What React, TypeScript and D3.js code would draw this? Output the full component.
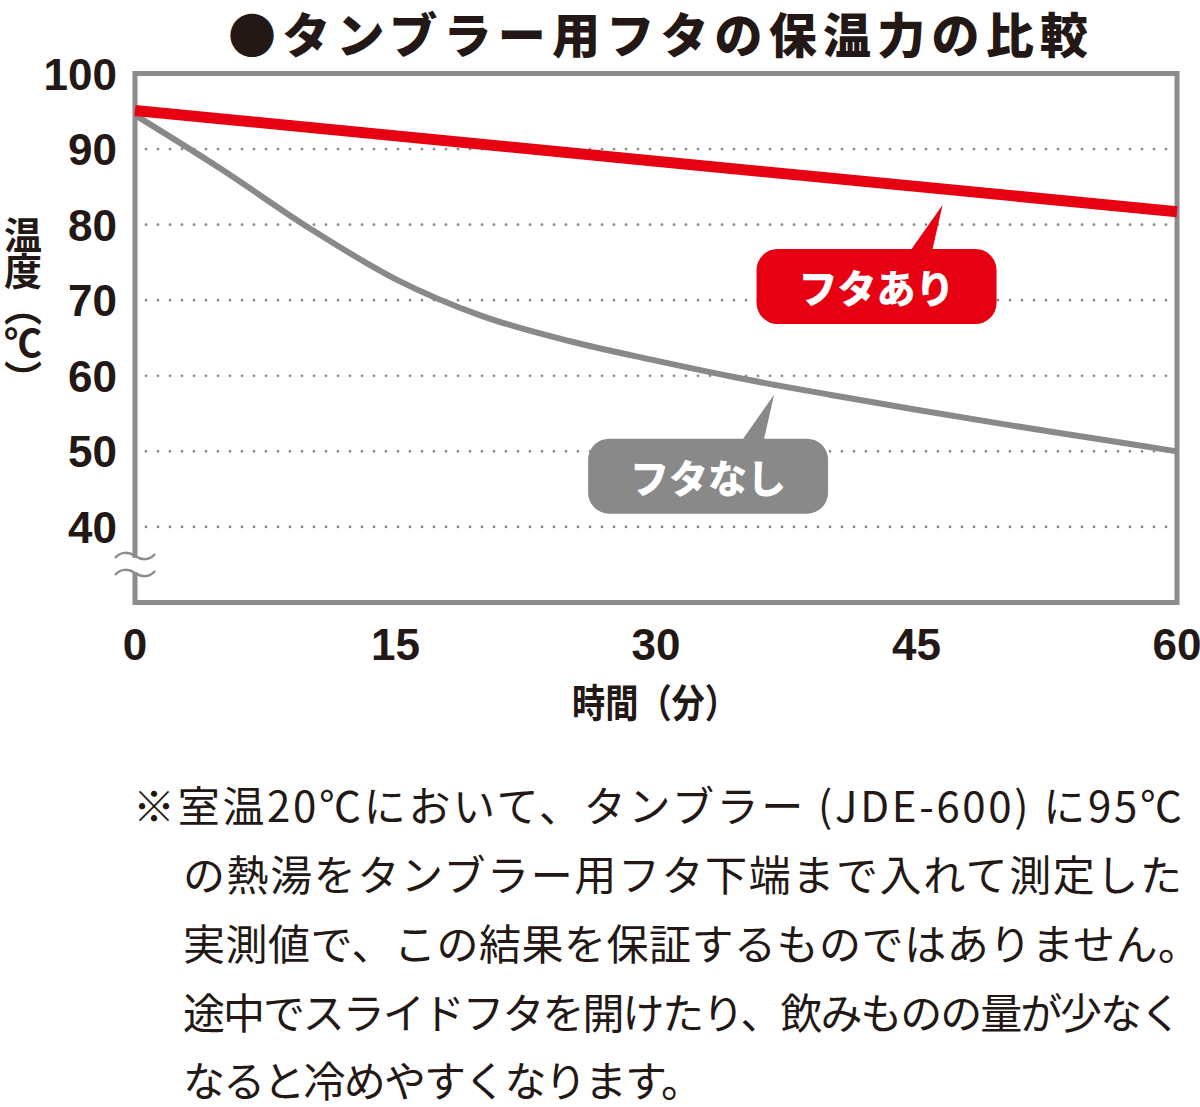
import React from 'react';
import * as d3 from 'd3';

// ---- data ----
const TITLE = '●タンブラー用フタの保温力の比較';
const xTickValues = [0, 15, 30, 45, 60];
const yTickValues = [40, 50, 60, 70, 80, 90, 100];
const gridValues = [40, 50, 60, 70, 80, 90];

const lidMinutes = [0, 30, 60];
const lidTemps = [95.1, 88.4, 81.7];

const noLidMinutes = [0, 5, 10, 15, 20, 25, 30, 35, 40, 45, 50, 55, 60];
const noLidTemps = [94.5, 87.3, 79.6, 72.8, 67.9, 64.6, 62.0, 59.6, 57.5, 55.5, 53.6, 51.8, 50.0];

const calloutLabels = ['フタあり', 'フタなし'];
const calloutTipMinutes = [46.5, 36.8];
const calloutTipTemps = [82.6, 57.5];
const calloutColors = ['#e60012', '#898989'];

const yAxisTitle = '温度︵℃︶';
const xAxisTitle = '時間（分）';

const noteLines = [
  '※室温20℃において、タンブラー (JDE-600) に95℃',
  'の熱湯をタンブラー用フタ下端まで入れて測定した',
  '実測値で、この結果を保証するものではありません。',
  '途中でスライドフタを開けたり、飲みものの量が少なく',
  'なると冷めやすくなります。',
];

// ---- layout ----
const W = 1200;
const H = 1107;
const CJK = '"Noto Sans CJK JP", "Noto Sans CJK SC", sans-serif';
const NUM = '"Liberation Sans", Arial, sans-serif';
const INK = '#231815';
const FRAME = '#8c8c8c';

export default function App() {
  const x = d3.scaleLinear().domain([0, 60]).range([135, 1177]);
  const y = d3.scaleLinear().domain([30, 100]).range([602.5, 73.5]);

  const lidData = lidMinutes.map((t, i) => ({ t, v: lidTemps[i] }));
  const noLidData = noLidMinutes.map((t, i) => ({ t, v: noLidTemps[i] }));

  const lineStraight = d3
    .line<{ t: number; v: number }>()
    .x((d) => x(d.t))
    .y((d) => y(d.v));
  const lineCurve = d3
    .line<{ t: number; v: number }>()
    .x((d) => x(d.t))
    .y((d) => y(d.v))
    .curve(d3.curveMonotoneX);

  const tilde = (cx: number, cy: number) =>
    `M${cx - 20},${cy + 2} C${cx - 14},${cy - 5} ${cx - 6},${cy - 4} ${cx},${cy} S${cx + 14},${cy + 5} ${cx + 20},${cy - 2}`;

  const callout = (tx: number, ty: number) => {
    const x0 = tx - 186, x1 = tx + 54, y0 = ty + 44, y1 = ty + 119, r = 21;
    const b0 = tx - 31, b1 = tx - 10;
    return {
      d: `M${x0 + r},${y0} L${b0},${y0} L${tx},${ty} L${b1},${y0} L${x1 - r},${y0} A${r},${r} 0 0 1 ${x1},${y0 + r} L${x1},${y1 - r} A${r},${r} 0 0 1 ${x1 - r},${y1} L${x0 + r},${y1} A${r},${r} 0 0 1 ${x0},${y1 - r} L${x0},${y0 + r} A${r},${r} 0 0 1 ${x0 + r},${y0} Z`,
      cx: (x0 + x1) / 2,
      cy: (y0 + y1) / 2,
    };
  };

  const noteX = [133, 183, 183, 183, 183];
  const noteLen = [1049, 999, 1017, 999, 520];
  const noteY = [803, 872, 941, 1010, 1078];

  return (
    <svg
      width={W}
      height={H}
      viewBox={`0 0 ${W} ${H}`}
      style={{ position: 'absolute', left: 0, top: 0, background: '#fff' }}
    >
      <rect x={0} y={0} width={W} height={H} fill="#fff" />

      {/* title */}
      <text
        x={228}
        y={32}
        fontFamily={CJK}
        fontWeight={900}
        fontSize={48}
        fill={INK}
        dominantBaseline="central"
        textLength={860}
        lengthAdjust="spacing"
      >
        {TITLE}
      </text>

      {/* grid */}
      {gridValues.map((v) => (
        <line
          key={v}
          x1={146}
          x2={1168}
          y1={y(v)}
          y2={y(v)}
          stroke="#8a8a8a"
          strokeWidth={2.8}
          strokeLinecap="round"
          strokeDasharray="0 12"
        />
      ))}

      {/* frame */}
      <rect
        x={x(0)}
        y={y(100)}
        width={x(60) - x(0)}
        height={y(30) - y(100)}
        fill="none"
        stroke={FRAME}
        strokeWidth={5}
      />

      {/* axis break */}
      <rect x={130} y={558} width={10} height={14} fill="#fff" />
      <path d={tilde(135, 556)} fill="none" stroke={FRAME} strokeWidth={2.5} />
      <path d={tilde(135, 573)} fill="none" stroke={FRAME} strokeWidth={2.5} />

      {/* series */}
      <path d={lineCurve(noLidData) || ''} fill="none" stroke="#898989" strokeWidth={6} />
      <path d={lineStraight(lidData) || ''} fill="none" stroke="#e60012" strokeWidth={11} />

      {/* callouts */}
      {calloutLabels.map((lab, i) => {
        const c = callout(x(calloutTipMinutes[i]), y(calloutTipTemps[i]));
        return (
          <g key={lab}>
            <path d={c.d} fill={calloutColors[i]} />
            <text
              x={c.cx}
              y={c.cy}
              fontFamily={CJK}
              fontWeight={900}
              fontSize={39}
              fill="#fff"
              textAnchor="middle"
              dominantBaseline="central"
            >
              {lab}
            </text>
          </g>
        );
      })}

      {/* y ticks */}
      {yTickValues.map((v) => (
        <text
          key={v}
          x={117}
          y={y(v) + 16}
          fontFamily={NUM}
          fontWeight={700}
          fontSize={44}
          fill={INK}
          textAnchor="end"
        >
          {v}
        </text>
      ))}

      {/* x ticks */}
      {xTickValues.map((t) => (
        <text
          key={t}
          x={x(t)}
          y={660}
          fontFamily={NUM}
          fontWeight={700}
          fontSize={44}
          fill={INK}
          textAnchor="middle"
        >
          {t}
        </text>
      ))}

      {/* x axis title */}
      <text
        x={572}
        y={700}
        fontFamily={CJK}
        fontWeight={700}
        fontSize={39}
        fill={INK}
        dominantBaseline="central"
        textLength={166}
        lengthAdjust="spacingAndGlyphs"
      >
        {xAxisTitle}
      </text>

      {/* y axis title (vertical) */}
      <text
        x={23}
        y={216}
        fontFamily={CJK}
        fontWeight={700}
        fontSize={38}
        fill={INK}
        style={{ writingMode: 'vertical-rl', letterSpacing: '-2px' }}
      >
        {yAxisTitle}
      </text>

      {/* footnote */}
      {noteLines.map((line, i) => (
        <text
          key={i}
          x={noteX[i]}
          y={noteY[i]}
          fontFamily={CJK}
          fontWeight={400}
          fontSize={42}
          fill={INK}
          dominantBaseline="central"
          textLength={noteLen[i]}
          lengthAdjust="spacing"
        >
          {line}
        </text>
      ))}
    </svg>
  );
}
